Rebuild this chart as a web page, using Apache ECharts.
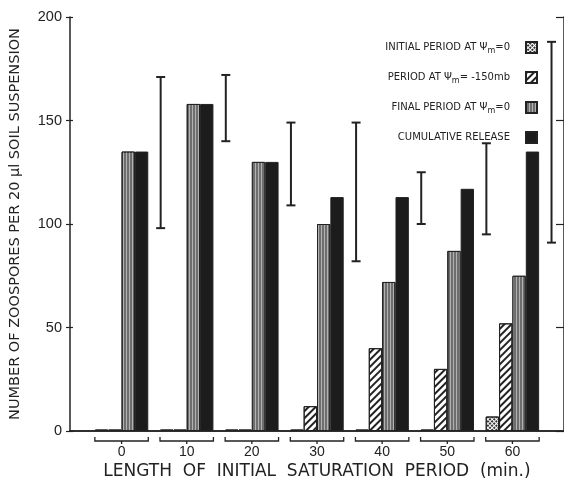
<!DOCTYPE html>
<html>
<head>
<meta charset="utf-8">
<script src="https://cdn.jsdelivr.net/npm/echarts@6/dist/echarts.min.js"></script>
<style>
  html, body { margin: 0; padding: 0; background: #fff; }
  #chart { width: 564px; height: 493px; }
</style>
</head>
<body>
<div id="chart"></div>
<script>
// minutes of initial saturation
var categories = ["0", "10", "20", "30", "40", "50", "60"];
var initialPeriod = [0, 0, 0, 0, 0, 0, 7];
var minus150Period = [0, 0, 0, 12, 40, 30, 52];
var finalPeriod = [135, 158, 130, 100, 72, 87, 75];
var cumulative = [135, 158, 130, 113, 113, 117, 135];
// vertical range markers to the right of each group
var rangeTop = [171, 172, 149, 149, 125, 139, 188];
var rangeBottom = [98, 140, 109, 82, 100, 95, 91];
var yTicks = [0, 50, 100, 150, 200];

var ink = "#222";
var font = "Liberation Sans";
var wide = "DejaVu Sans";

var names = [
  "INITIAL PERIOD AT Ψm=0",
  "PERIOD AT Ψm= -150mb",
  "FINAL PERIOD AT Ψm=0",
  "CUMULATIVE RELEASE"
];

var myChart = echarts.init(document.getElementById("chart"));

var barBase = {
  type: "bar",
  xAxisIndex: 2,
  yAxisIndex: 3,
  barGap: "0%",
  barCategoryGap: "18%",
  barMinHeight: 1.5,
  animation: false
};

var option = {
  backgroundColor: "#fff",
  animation: false,
  textStyle: { fontFamily: font, color: ink },
  grid: [
    { left: 70, right: -3, top: 17, bottom: 62 },
    { left: 89, right: 19, top: 17, bottom: 62 }
  ],
  legend: {
    orient: "vertical",
    right: 21,
    top: 36,
    align: "right",
    itemWidth: 11,
    itemHeight: 11,
    itemGap: 16.5,
    icon: "rect",
    data: names,
    textStyle: { fontSize: 10, color: ink, fontFamily: wide, padding: [0, 11, 0, 0],
      rich: {
        sub: { fontSize: 8, color: ink, fontFamily: wide, padding: [6, 0, 0, 0] }
      }
    },
    formatter: function (name) {
      return name.replace("Ψm", "Ψ{sub|m}");
    }
  },
  xAxis: [
    {
      gridIndex: 0, type: "value", min: 0, max: 1, position: "bottom",
      axisLine: { show: true, lineStyle: { color: ink, width: 1.5 } },
      axisTick: { show: false }, axisLabel: { show: false }, splitLine: { show: false },
      name: "LENGTH  OF  INITIAL  SATURATION  PERIOD  (min.)",
      nameLocation: "middle", nameGap: 32,
      nameTextStyle: { fontSize: 17, color: ink, fontFamily: wide }
    },
    {
      gridIndex: 0, type: "value", min: 0, max: 1, position: "top",
      axisLine: { show: true, lineStyle: { color: ink, width: 1.5 } },
      axisTick: { show: false }, axisLabel: { show: false }, splitLine: { show: false }
    },
    {
      gridIndex: 1, type: "category", data: categories,
      axisLine: { show: false }, axisTick: { show: false },
      axisLabel: { fontSize: 14, color: ink, margin: 14, fontFamily: font }
    }
  ],
  yAxis: [
    {
      gridIndex: 0, type: "value", min: 0, max: 200, interval: 50, position: "left",
      axisLine: { show: true, lineStyle: { color: ink, width: 1.5 } },
      axisTick: { show: true, length: 4, lineStyle: { color: ink, width: 1.2 } },
      axisLabel: { fontSize: 14.5, color: ink, margin: 8, fontFamily: font,
        customValues: yTicks },
      splitLine: { show: false },
      name: "NUMBER OF ZOOSPORES PER 20 μl SOIL SUSPENSION",
      nameLocation: "middle", nameGap: 47,
      nameTextStyle: { fontSize: 14.5, color: ink, fontFamily: wide }
    },
    {
      gridIndex: 0, type: "value", min: 0, max: 200, interval: 50, position: "left",
      axisLine: { show: false },
      axisTick: { show: true, inside: true, length: 3, lineStyle: { color: ink, width: 1.2 } },
      axisLabel: { show: false }, splitLine: { show: false }
    },
    {
      gridIndex: 0, type: "value", min: 0, max: 200, interval: 50, position: "right",
      axisLine: { show: true, lineStyle: { color: ink, width: 1.5 } },
      axisTick: { show: true, inside: true, length: 8, lineStyle: { color: ink, width: 1.2 } },
      axisLabel: { show: false }, splitLine: { show: false }
    },
    {
      gridIndex: 1, type: "value", min: 0, max: 200, show: false
    }
  ],
  series: [
    Object.assign({}, barBase, {
      name: names[0],
      data: initialPeriod,
      itemStyle: {
        color: "#fff", borderColor: ink, borderWidth: 1,
        decal: { symbol: "rect", color: "#333", dashArrayX: [2, 1], dashArrayY: [2, 1], rotation: Math.PI / 4, symbolSize: 1 }
      }
    }),
    Object.assign({}, barBase, {
      name: names[1],
      data: minus150Period,
      itemStyle: {
        color: "#fff", borderColor: ink, borderWidth: 1,
        decal: { symbol: "rect", color: "#222", dashArrayX: [1, 0], dashArrayY: [2, 2.5], rotation: -Math.PI / 4, symbolSize: 1 }
      }
    }),
    Object.assign({}, barBase, {
      name: names[2],
      data: finalPeriod,
      itemStyle: {
        color: "#6e6e6e", borderColor: ink, borderWidth: 1,
        decal: { symbol: "rect", color: "rgba(185,185,185,0.9)", dashArrayX: [1, 2], dashArrayY: [1, 0], rotation: 0, symbolSize: 1 }
      }
    }),
    Object.assign({}, barBase, {
      name: names[3],
      data: cumulative,
      itemStyle: { color: "#1c1c1c", borderColor: ink, borderWidth: 1 }
    }),
    {
      type: "custom",
      name: "range",
      xAxisIndex: 2,
      yAxisIndex: 3,
      clip: false,
      data: categories.map(function (c, i) { return [i, rangeTop[i], rangeBottom[i]]; }),
      renderItem: function (params, api) {
        var i = api.value(0);
        var top = api.coord([i, api.value(1)]);
        var bot = api.coord([i, api.value(2)]);
        var band = api.size([1, 0])[0];
        var x = top[0] + band * 0.6;
        var cap = 4.5;
        var st = { stroke: ink, lineWidth: 2 };
        return {
          type: "group",
          children: [
            { type: "line", shape: { x1: x, y1: top[1], x2: x, y2: bot[1] }, style: st },
            { type: "line", shape: { x1: x - cap, y1: top[1], x2: x + cap, y2: top[1] }, style: st },
            { type: "line", shape: { x1: x - cap, y1: bot[1], x2: x + cap, y2: bot[1] }, style: st }
          ]
        };
      },
      z: 5
    },
    {
      type: "custom",
      name: "bracket",
      xAxisIndex: 2,
      yAxisIndex: 3,
      clip: false,
      data: categories.map(function (c, i) { return [i, 0]; }),
      renderItem: function (params, api) {
        var p = api.coord([api.value(0), 0]);
        var band = api.size([1, 0])[0];
        var half = band * 0.41;
        var y = p[1] + 10;
        var st = { stroke: ink, lineWidth: 1.3, fill: null };
        return {
          type: "group",
          children: [
            { type: "polyline", shape: { points: [[p[0] - half, y - 4], [p[0] - half, y], [p[0] + half, y], [p[0] + half, y - 4]] }, style: st },
            { type: "line", shape: { x1: p[0], y1: y, x2: p[0], y2: y + 3 }, style: st }
          ]
        };
      }
    }
  ]
};

myChart.setOption(option);
window.addEventListener("resize", function () {
  myChart.resize();
});
</script>
</body>
</html>
